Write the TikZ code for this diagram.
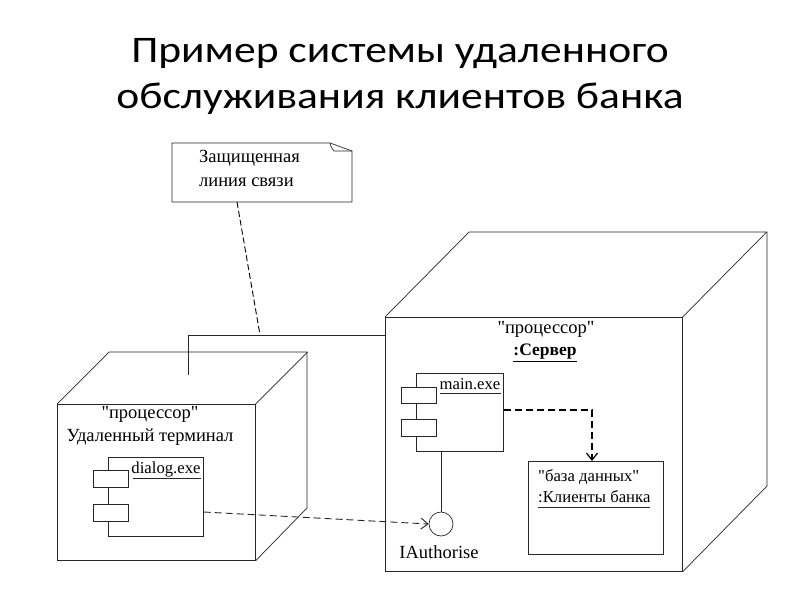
\documentclass[tikz,border=0pt]{standalone}
\usepackage{fontspec}
\setmainfont{Liberation Serif}
\newfontfamily\titlefont{Carlito}
\usetikzlibrary{arrows.meta,calc}
\begin{document}
\begin{tikzpicture}[x=1pt,y=-1pt,
  edge/.style={draw=black!85,line width=0.7pt},
  face/.style={edge,rectangle,inner sep=0pt,anchor=north west},
  dep/.style={edge,dash pattern=on 7pt off 4pt,-{Straight Barb[length=7pt,width=11pt]}},
  lbl/.style={font=\fontsize{18.5}{22}\selectfont,inner sep=0pt},
  slbl/.style={font=\fontsize{16.7}{20}\selectfont,inner sep=0pt},
  ttl/.style={font=\titlefont\fontsize{37.5}{46}\selectfont,inner sep=0pt,anchor=base}]
\useasboundingbox (0,0) rectangle (800,600);
% title
\node[ttl] (title1) at (400,62) {\scalebox{1.16}[1]{Пример системы удаленного}};
\node[ttl] (title2) at (400,108) {\scalebox{1.16}[1]{обслуживания клиентов банка}};
% note
\node[inner sep=0pt,minimum width=180pt,minimum height=59pt,anchor=north west] (note) at (172,143) {};
\draw[edge] (172,143) -- (330,143) -- (352,151) -- (352,202) -- (172,202) -- cycle;
\draw[edge] (330,143) .. controls (331,147) .. (334,151) -- (352,151);
\node[lbl,anchor=west] (nt1) at (199,158) {Защищенная};
\node[lbl,anchor=west] (nt2) at (199,182) {линия связи};
% left cube
\node[face,minimum width=198pt,minimum height=156pt] (term) at (57,404) {};
\draw[edge] (term.north west) -- ++(52,-52) -- ++(198,0) -- ++(0,156) -- (term.south east);
\draw[edge] (term.north east) -- ++(52,-52);
\node[lbl] (t1) at (150,414) {\textquotedbl процессор\textquotedbl};
\node[lbl] (t2) at (150,437) {Удаленный терминал};
% dialog component
\node[face,minimum width=95pt,minimum height=79pt] (dlg) at (108,457) {};
\node[face,fill=white,minimum width=35pt,minimum height=17pt] (dp1) at (93,470) {};
\node[face,fill=white,minimum width=35pt,minimum height=17pt] (dp2) at (93,504) {};
\node[slbl,anchor=base] (dlab) at (166,473) {dialog.exe};
\draw[edge] (133,478) -- (201,478);
% server cube
\node[face,minimum width=297pt,minimum height=254pt] (srv) at (385,317) {};
\draw[edge] (srv.north west) -- ++(84,-85) -- ++(298,0) -- ++(0,254) -- (srv.south east);
\draw[edge] (srv.north east) -- ++(84,-85);
\node[lbl] (s1) at (546,329) {\textquotedbl процессор\textquotedbl};
\node[inner sep=0pt,font=\fontsize{17.5}{20}\selectfont\bfseries] (s2) at (545,353) {\underline{:Сервер}};
% main component
\node[face,minimum width=87pt,minimum height=78pt] (mainc) at (416,373) {};
\node[face,fill=white,minimum width=35pt,minimum height=16pt] (mp1) at (401,387) {};
\node[face,fill=white,minimum width=35pt,minimum height=17pt] (mp2) at (401,419) {};
\node[slbl,anchor=base] (mlab) at (470,389) {main.exe};
\draw[edge] (440,393) -- (501,393);
% interface
\node[edge,circle,minimum size=24pt,inner sep=0pt] (iface) at (441,524) {};
\draw[edge] (mainc.south -| iface) -- (iface.north);
\node[lbl] (ilab) at (439,552) {IAuthorise};
% database
\node[face,minimum width=135pt,minimum height=93pt] (db) at (528,461) {};
\node[slbl,anchor=base west] (d1) at (538,481) {\textquotedbl база данных\textquotedbl};
\node[slbl,anchor=base west] (d2) at (538,502) {:Клиенты банка};
\draw[edge] (538,507) -- (650,507);
% connectors
\coordinate (c1) at (188,375);
\coordinate (c2) at (188,335);
\coordinate (c3) at (260,335);
\coordinate (bend) at (592,410);
\draw[edge] (c1) -- (c2) -- (srv.north west |- c2);
\draw[edge,black,line width=0.9pt,dash pattern=on 6pt off 3pt] (237,202) -- (c3);
\draw[dep,black,line width=1.2pt] (mainc.east |- bend) -- (bend) -- (bend |- db.north);
\draw[dep,line width=0.9pt] (dlg.east |- 0,512) -- (iface.west);
\end{tikzpicture}
\end{document}
